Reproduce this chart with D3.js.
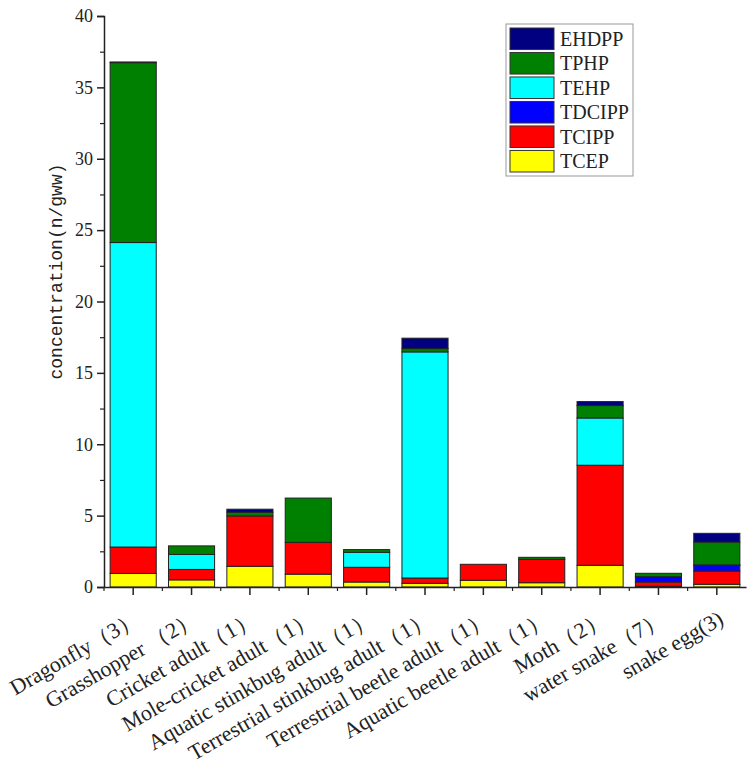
<html>
<head>
<title>chart</title>
<style>
  body { margin: 0; background: #fff; }
</style>
</head>
<body>
<div id="viz"></div>
<script src="https://d3js.org/d3.v7.min.js"></script>
<script>

var categories = ["Dragonfly（3）", "Grasshopper （2）", "Cricket adult（1）", "Mole-cricket adult（1）",
    "Aquatic stinkbug adult（1）", "Terrestrial stinkbug adult（1）", "Terrestrial beetle adult（1）",
    "Aquatic beetle adult（1）", "Moth（2）", "water snake（7）", "snake egg(3)"];

var seriesNames = ["TCEP", "TCIPP", "TDCIPP", "TEHP", "TPHP", "EHDPP"];
var seriesColors = ["#ffff00", "#ff0000", "#0000ff", "#00ffff", "#008000", "#000080"];

var TCEP   = [0.95, 0.50, 1.45, 0.90, 0.35, 0.26, 0.47, 0.30, 1.52, 0.05, 0.19];
var TCIPP  = [1.85, 0.73, 3.53, 2.23, 1.03, 0.37, 1.12, 1.64, 7.01, 0.30, 0.93];
var TDCIPP = [0.00, 0.00, 0.00, 0.00, 0.00, 0.00, 0.00, 0.00, 0.00, 0.37, 0.38];
var TEHP   = [21.33, 1.05, 0.00, 0.00, 1.05, 15.84, 0.00, 0.00, 3.31, 0.00, 0.05];
var TPHP   = [12.60, 0.60, 0.26, 3.10, 0.19, 0.23, 0.00, 0.14, 0.87, 0.24, 1.60];
var EHDPP  = [0.05, 0.00, 0.21, 0.00, 0.00, 0.73, 0.00, 0.00, 0.28, 0.00, 0.61];

var yTicks = [0, 5, 10, 15, 20, 25, 30, 35, 40];

var width = 756, height = 767;
var mLeft = 104, mRight = 746, mTop = 16, mBottom = 587;

var svg = d3.select("#viz").append("svg")
    .attr("width", width)
    .attr("height", height);

var table = categories.map(function (c, i) {
    return { cat: c, TCEP: TCEP[i], TCIPP: TCIPP[i], TDCIPP: TDCIPP[i], TEHP: TEHP[i], TPHP: TPHP[i], EHDPP: EHDPP[i] };
});

var stack = d3.stack().keys(seriesNames)(table);

var x = d3.scaleBand().domain(categories).range([mLeft, mRight]).paddingInner(0.21).paddingOuter(0.105);
var xb = d3.scaleBand().domain(categories).range([mLeft, mRight]);
var y = d3.scaleLinear().domain([0, 40]).range([mBottom, mTop]);
var color = d3.scaleOrdinal().domain(seriesNames).range(seriesColors);

// bars
svg.append("g").selectAll("g")
    .data(stack)
    .enter().append("g")
    .attr("fill", function (d) { return color(d.key); })
    .selectAll("rect")
    .data(function (d) { return d.filter(function (s) { return s[1] - s[0] > 0; }); })
    .enter().append("rect")
    .attr("x", function (d) { return x(d.data.cat); })
    .attr("y", function (d) { return y(d[1]); })
    .attr("width", x.bandwidth())
    .attr("height", function (d) { return y(d[0]) - y(d[1]); })
    .attr("stroke", "#222")
    .attr("stroke-width", 1);

// y axis
var yAxis = svg.append("g")
    .attr("transform", "translate(" + mLeft + ",0)")
    .call(d3.axisLeft(y).tickValues(yTicks).tickSize(7).tickPadding(4));
yAxis.select(".domain").attr("stroke", "#222").attr("stroke-width", 1.5);
yAxis.selectAll(".tick line").attr("stroke", "#222").attr("stroke-width", 1.5);
yAxis.selectAll("text")
    .attr("font-family", "'Liberation Serif', 'Times New Roman', serif")
    .attr("font-size", 18)
    .attr("fill", "#222");

svg.append("g")
    .attr("transform", "translate(" + mLeft + ",0)")
    .call(d3.axisLeft(y).tickValues(d3.range(2.5, 40, 5)).tickSize(4).tickFormat(""))
    .call(function (g) { g.select(".domain").remove(); })
    .selectAll("line").attr("stroke", "#222").attr("stroke-width", 1.2);

// x axis
var xAxis = svg.append("g")
    .attr("transform", "translate(0," + mBottom + ")")
    .call(d3.axisBottom(xb).tickSize(8).tickSizeOuter(0).tickFormat(""));
xAxis.select(".domain").attr("stroke", "#222").attr("stroke-width", 1.5);
xAxis.selectAll(".tick line").attr("stroke", "#222").attr("stroke-width", 1.5);

// minor ticks on band edges
svg.append("g").selectAll("line")
    .data(categories)
    .enter().append("line")
    .attr("x1", function (d) { return xb(d); })
    .attr("x2", function (d) { return xb(d); })
    .attr("y1", mBottom)
    .attr("y2", mBottom + 4)
    .attr("stroke", "#222")
    .attr("stroke-width", 1.2);

// category labels
svg.append("g").selectAll("text")
    .data(categories)
    .enter().append("text")
    .attr("transform", function (d) {
        return "translate(" + (xb(d) + xb.bandwidth() / 2 + 8) + "," + (mBottom + 36) + ") rotate(-30)";
    })
    .attr("text-anchor", "end")
    .attr("font-family", "'Liberation Serif', 'Times New Roman', serif")
    .attr("font-size", 22)
    .attr("fill", "#222")
    .text(function (d) { return d; });

// y title
svg.append("text")
    .attr("transform", "translate(62," + ((mTop + mBottom) / 2 - 30) + ") rotate(-90)")
    .attr("text-anchor", "middle")
    .attr("font-family", "'Liberation Mono', monospace")
    .attr("font-size", 18)
    .attr("fill", "#222")
    .text("concentration(n/gww)");

// legend
var legend = svg.append("g").attr("transform", "translate(506,24)");
legend.append("rect")
    .attr("width", 127)
    .attr("height", 152)
    .attr("fill", "#fff")
    .attr("stroke", "#999")
    .attr("stroke-width", 1);

var legendKeys = seriesNames.slice().reverse();
var ly = d3.scaleBand().domain(legendKeys).range([4, 148]).paddingInner(0.12);

legend.selectAll(".sw")
    .data(legendKeys)
    .enter().append("rect")
    .attr("x", 4)
    .attr("y", function (d) { return ly(d); })
    .attr("width", 44)
    .attr("height", ly.bandwidth())
    .attr("fill", function (d) { return color(d); })
    .attr("stroke", "#333")
    .attr("stroke-width", 1);

legend.selectAll(".lt")
    .data(legendKeys)
    .enter().append("text")
    .attr("x", 54)
    .attr("y", function (d) { return ly(d) + ly.bandwidth() / 2 + 7; })
    .attr("font-family", "'Liberation Serif', 'Times New Roman', serif")
    .attr("font-size", 20)
    .attr("fill", "#222")
    .text(function (d) { return d; });

</script>
</body>
</html>
